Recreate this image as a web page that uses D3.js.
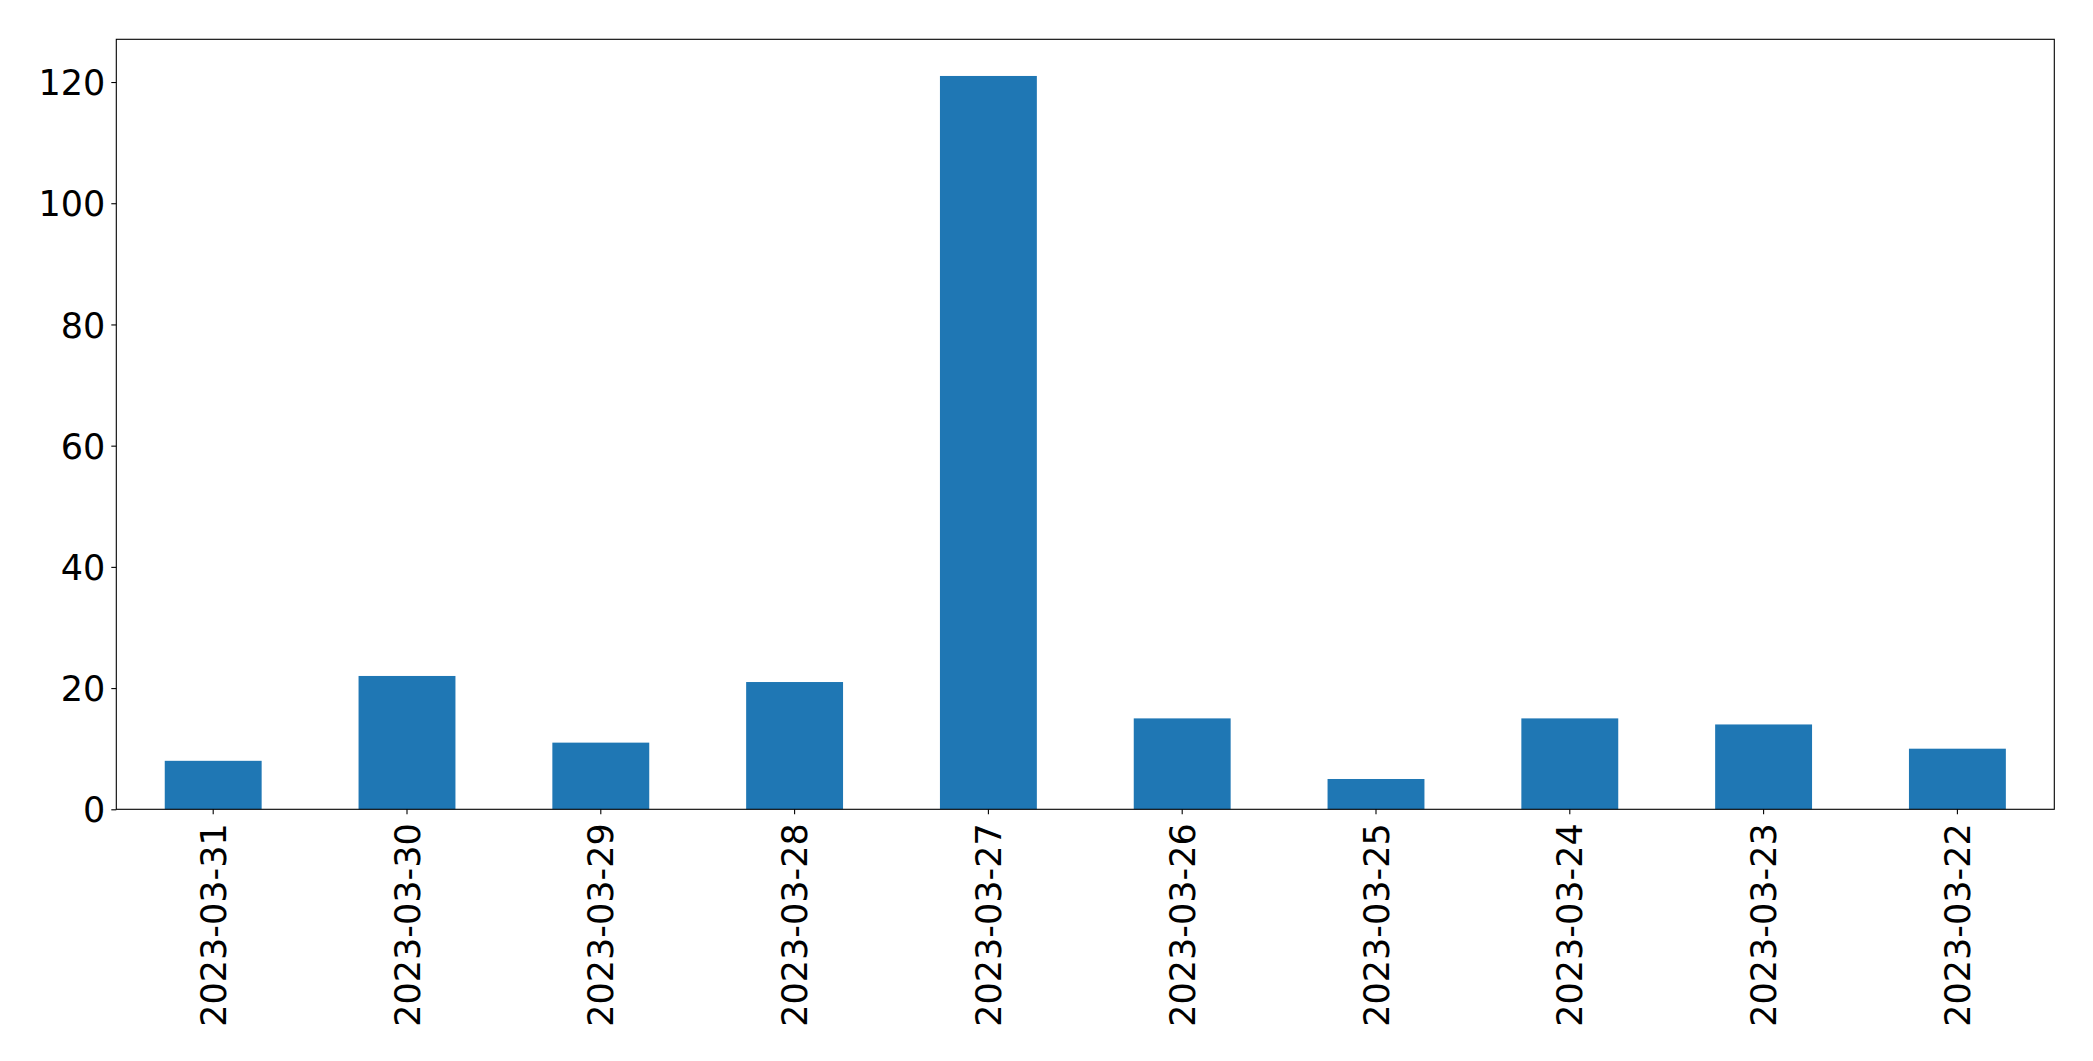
<!DOCTYPE html>
<html>
<head>
<meta charset="utf-8">
<script src="https://cdn.jsdelivr.net/npm/d3@7"></script>
<style>
  html, body { margin: 0; padding: 0; background: #fff; }
  svg { display: block; }
  text { font-family: "DejaVu Sans", sans-serif; fill: #000; }
</style>
</head>
<body>
<svg id="chart" width="2093" height="1061"></svg>
<script>
const categories = ["2023-03-31","2023-03-30","2023-03-29","2023-03-28","2023-03-27","2023-03-26","2023-03-25","2023-03-24","2023-03-23","2023-03-22"];
const values = [8, 22, 11, 21, 121, 15, 5, 15, 14, 10];
const yTicks = [0, 20, 40, 60, 80, 100, 120];

const W = 2093, H = 1061;
const margin = { left: 116.3, right: W - 2054.3, top: 39.3, bottom: H - 809.3 };
const pw = W - margin.left - margin.right;
const ph = H - margin.top - margin.bottom;
const fontSize = 35;

const svg = d3.select("#chart");
const g = svg.append("g").attr("transform", `translate(${margin.left},${margin.top})`);

const yMax = d3.max(values) * 1.05;
const y = d3.scaleLinear().domain([0, yMax]).range([ph, 0]);
const x = d3.scaleBand().domain(categories).range([0, pw]).paddingInner(0.5).paddingOuter(0.25);

g.selectAll("rect.bar").data(values).enter().append("rect")
  .attr("class", "bar")
  .attr("x", (d, i) => x(categories[i]))
  .attr("width", x.bandwidth())
  .attr("y", d => y(d))
  .attr("height", d => ph - y(d))
  .attr("fill", "#1f77b4");

// Y axis
const yAxis = d3.axisLeft(y).tickValues(yTicks).tickSize(5).tickPadding(6).tickFormat(d3.format("d"));
const ya = g.append("g").call(yAxis);
ya.select(".domain").remove();
ya.selectAll("line").attr("stroke", "#000").attr("stroke-width", 1.1);
ya.selectAll("text").style("font-size", fontSize + "px").attr("dy", "0.36em");

// X axis
const xAxis = d3.axisBottom(x).tickSize(5).tickPadding(0);
const xa = g.append("g").attr("transform", `translate(0,${ph})`).call(xAxis);
xa.select(".domain").remove();
xa.selectAll("line").attr("stroke", "#000").attr("stroke-width", 1.1);
xa.selectAll("text")
  .style("font-size", fontSize + "px")
  .attr("text-anchor", "end")
  .attr("transform", "rotate(-90)")
  .attr("x", -14)
  .attr("y", 0)
  .attr("dy", "0.36em");

// Frame
g.append("rect")
  .attr("x", 0).attr("y", 0).attr("width", pw).attr("height", ph)
  .attr("fill", "none").attr("stroke", "#000").attr("stroke-width", 1.1);
</script>
</body>
</html>
